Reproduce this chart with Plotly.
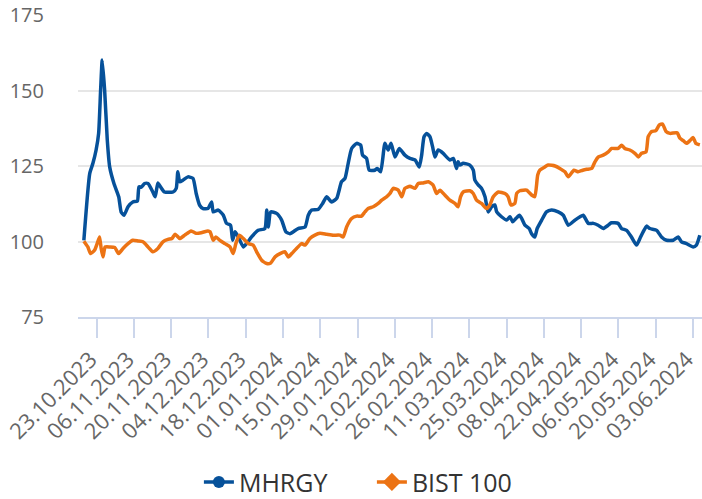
import pandas as pd
import plotly.graph_objects as go

# ---- data (days since 23.10.2023, index value) ----
base_date = "2023-10-23"

mhrgy_days = [-4.8, -2.6, -1.4, -0.2, 0.75, 1.5, 2.1, 3.0, 4.0, 4.9, 6.5, 8.3, 9.2, 10.3, 11.8, 13.6,
              15.3, 15.9, 16.8, 18.0, 19.3, 21.1, 22.0, 23.0, 24.0, 25.5, 28.7, 29.9, 30.5, 31.2, 32.4,
              34.3, 36.2, 37.4, 38.7, 40.0, 41.8, 43.2, 43.8, 45.7, 47.6, 48.8, 50.3, 51.1, 52.0, 53.2,
              55.1, 56.3, 58.2, 60.7, 63.2, 63.9, 64.5, 65.4, 67.6, 69.5, 71.1, 72.6, 75.7, 78.3, 79.5,
              80.8, 83.2, 84.9, 86.4, 88.3, 90.2, 92.0, 93.3, 94.5, 95.8, 97.7, 99.2, 99.9, 101.4, 102.4,
              104.5, 105.4, 106.7, 108.3, 109.5, 110.6, 112.1, 113.7, 115.8, 117.7, 119.6, 121.2, 122.1,
              123.0, 124.0, 125.2, 126.2, 127.1, 128.3, 130.2, 130.8, 132.7, 134.0, 135.2, 135.8, 136.5,
              137.7, 140.2, 141.5, 142.1, 143.4, 144.6, 145.9, 147.1, 148.4, 149.6, 150.3, 152.1, 154.0,
              155.3, 156.3, 157.5, 158.8, 159.7, 160.9, 162.5, 163.4, 164.6, 165.5, 167.2, 169.0, 170.9,
              173.4, 175.3, 177.2, 179.7, 181.6, 182.8, 184.7, 186.6, 188.4, 190.3, 192.2, 193.4, 195.9,
              197.2, 199.1, 200.9, 202.8, 204.1, 205.3, 206.6, 207.8, 210.4, 212.2, 214.1, 216.6, 218.5,
              219.7, 221.6, 224.1, 225.3, 226.6]
mhrgy_vals = [100.4, 122.5, 125.9, 130.3, 135.8, 150.2, 160.1, 150.2, 133.6, 124.7, 119.2, 114.8, 109.8,
              108.7, 111.5, 113.1, 113.4, 118.1, 118.0, 119.2, 119.2, 116.4, 114.8, 119.4, 118.1, 116.4,
              116.4, 117.6, 123.1, 119.8, 120.3, 121.4, 120.9, 115.9, 112.0, 110.9, 110.9, 113.1, 109.8,
              110.4, 108.7, 106.0, 105.4, 100.4, 103.2, 101.5, 98.2, 99.3, 101.5, 103.7, 104.3, 110.4,
              104.8, 109.8, 109.3, 107.1, 103.2, 102.6, 104.3, 104.8, 108.7, 110.4, 110.6, 112.6, 114.8,
              113.1, 114.3, 119.8, 120.9, 125.9, 130.8, 132.5, 131.9, 128.6, 127.5, 123.6, 123.6, 124.2,
              123.1, 132.5, 130.3, 132.5, 128.0, 130.8, 128.6, 127.5, 127.0, 124.7, 128.6, 134.7, 135.8,
              134.7, 131.4, 128.0, 130.3, 129.2, 128.6, 127.0, 127.5, 124.2, 126.4, 125.3, 125.9, 125.3,
              123.6, 120.3, 118.7, 117.6, 114.8, 109.8, 111.5, 112.1, 109.8, 108.2, 107.1, 108.2, 106.5,
              107.6, 108.7, 107.6, 105.4, 104.3, 102.6, 101.5, 104.3, 107.1, 109.8, 110.4, 109.8, 108.7,
              105.4, 107.1, 108.2, 108.7, 106.0, 106.0, 105.4, 104.3, 105.4, 106.2, 106.0, 104.3, 103.7,
              101.5, 98.8, 101.0, 103.2, 105.1, 104.3, 103.7, 101.5, 100.4, 100.4, 101.5, 99.9, 99.3,
              98.2, 98.8, 102.1]

bist_days = [-4.8, -3.3, -2.3, -0.8, 0.2, 1.1, 1.7, 2.4, 3.2, 4.9, 6.8, 8.3, 9.9, 11.8, 13.6, 15.5, 17.4,
             19.3, 21.1, 23.0, 24.9, 26.8, 28.3, 29.5, 31.2, 33.1, 35.5, 37.4, 39.3, 41.8, 42.6, 43.8,
             44.8, 46.3, 48.2, 50.1, 51.3, 52.3, 53.6, 55.1, 57.0, 58.8, 60.1, 62.0, 63.9, 65.4, 67.0,
             68.9, 70.7, 72.0, 73.3, 75.1, 77.0, 78.3, 80.1, 82.0, 83.9, 86.4, 88.9, 91.4, 92.6, 93.9,
             95.8, 97.7, 99.5, 100.8, 102.0, 103.9, 105.8, 107.1, 108.9, 110.2, 111.4, 113.3, 114.6,
             115.8, 117.7, 119.6, 120.8, 122.7, 124.6, 126.4, 127.7, 129.0, 130.8, 132.7, 134.6, 135.8,
             136.7, 137.7, 140.2, 141.5, 142.7, 144.6, 146.5, 147.7, 149.0, 150.9, 153.4, 154.6, 155.6,
             157.1, 157.8, 159.0, 161.5, 163.4, 164.6, 165.7, 166.5, 168.4, 169.6, 172.2, 174.0, 175.9,
             177.2, 179.3, 180.9, 182.6, 184.1, 186.0, 187.2, 188.5, 190.3, 192.2, 193.5, 195.9, 197.2,
             198.4, 200.3, 202.2, 203.5, 204.7, 206.4, 207.2, 208.5, 210.1, 211.4, 212.6, 213.9, 215.4,
             218.1, 219.1, 220.4, 221.6, 223.1, 224.1, 225.1, 226.6]
bist_vals = [100.1, 98.2, 96.0, 97.1, 99.3, 101.5, 97.7, 94.9, 98.2, 98.2, 98.0, 96.0, 97.7, 99.3, 100.4,
             100.2, 99.9, 98.2, 96.6, 97.7, 99.9, 100.7, 101.0, 102.4, 101.0, 102.1, 103.5, 102.7, 102.9,
             103.5, 103.2, 100.4, 101.5, 100.4, 99.3, 98.2, 96.0, 99.3, 102.1, 101.0, 99.3, 98.8, 96.6,
             93.8, 92.7, 92.9, 94.9, 96.0, 96.6, 94.9, 96.0, 97.7, 99.3, 98.8, 101.0, 102.1, 102.7, 102.4,
             102.1, 102.1, 101.5, 104.8, 107.6, 108.4, 108.4, 109.8, 110.9, 111.5, 112.6, 113.7, 114.8,
             115.9, 117.6, 117.0, 114.8, 117.6, 118.3, 117.6, 119.2, 119.4, 119.8, 118.7, 115.9, 117.0,
             115.4, 113.7, 112.6, 111.5, 114.8, 116.4, 116.8, 115.9, 113.7, 112.6, 110.9, 112.1, 114.8,
             116.4, 115.9, 114.8, 112.1, 112.6, 115.9, 116.8, 117.0, 115.4, 114.8, 122.0, 123.6, 124.7,
             125.3, 125.0, 124.2, 123.1, 121.4, 123.6, 123.1, 123.6, 123.9, 124.2, 126.4, 128.0, 128.6,
             129.7, 130.8, 130.8, 131.9, 130.8, 130.3, 129.2, 128.0, 129.2, 129.7, 134.7, 136.4, 136.7,
             138.6, 138.9, 136.4, 135.8, 136.0, 134.2, 133.4, 132.5, 133.6, 134.4, 132.5, 132.0]

tick_labels = ["23.10.2023", "06.11.2023", "20.11.2023", "04.12.2023", "18.12.2023", "01.01.2024",
               "15.01.2024", "29.01.2024", "12.02.2024", "26.02.2024", "11.03.2024", "25.03.2024",
               "08.04.2024", "22.04.2024", "06.05.2024", "20.05.2024", "03.06.2024"]
y_ticks = [75, 100, 125, 150, 175]
x_start, x_end = "2023-10-16", "2024-06-06 10:00"

# ---- build ----
base = pd.Timestamp(base_date)
mhrgy_x = base + pd.to_timedelta(mhrgy_days, unit="D")
bist_x = base + pd.to_timedelta(bist_days, unit="D")
tick_vals = pd.to_datetime(tick_labels, format="%d.%m.%Y")

BLUE = "#06519a"
ORANGE = "#ec7314"
FONT = "Open Sans"

fig = go.Figure()
fig.add_trace(go.Scatter(x=mhrgy_x, y=mhrgy_vals, mode="lines", name="MHRGY",
                         line=dict(color=BLUE, width=3.5, shape="spline", smoothing=0.5),
                         showlegend=False, legendgroup="m"))
fig.add_trace(go.Scatter(x=bist_x, y=bist_vals, mode="lines", name="BIST 100",
                         line=dict(color=ORANGE, width=3.5, shape="spline", smoothing=0.5),
                         showlegend=False, legendgroup="b"))
# legend entries (line + marker symbol)
fig.add_trace(go.Scatter(x=[None], y=[None], mode="lines+markers", name="MHRGY",
                         line=dict(color=BLUE, width=3.5),
                         marker=dict(symbol="circle", size=12, color=BLUE), legendgroup="m"))
fig.add_trace(go.Scatter(x=[None], y=[None], mode="lines+markers", name="BIST 100",
                         line=dict(color=ORANGE, width=3.5),
                         marker=dict(symbol="diamond", size=14, color=ORANGE), legendgroup="b"))

fig.update_layout(
    width=702, height=499,
    margin=dict(l=78, r=0, t=15, b=182, autoexpand=False),
    paper_bgcolor="white", plot_bgcolor="white",
    font=dict(family=FONT, color="#666666"),
    showlegend=True,
    legend=dict(orientation="h", x=0.471, xanchor="center", y=-0.547, yanchor="middle",
                font=dict(size=25, color="#333333", family=FONT), itemwidth=30,
                entrywidth=128, bgcolor="rgba(0,0,0,0)"),
)
fig.update_xaxes(
    type="date", range=[x_start, x_end], automargin=False,
    tickmode="array", tickvals=tick_vals, ticktext=tick_labels, tickangle=-45,
    tickfont=dict(size=22, color="#666666", family=FONT), ticklabeloverflow="allow",
    ticklabelshift=-6,
    showgrid=False, showline=True, linecolor="#ccd6eb", linewidth=2,
    ticks="outside", ticklen=19, tickwidth=2, tickcolor="#ccd6eb", zeroline=False,
)
fig.update_yaxes(
    range=[75, 175], tickmode="array", tickvals=y_ticks, automargin=False,
    tickfont=dict(size=20, color="#666666", family=FONT),
    showgrid=True, gridcolor="#e6e6e6", gridwidth=2, zeroline=False, showline=False,
    ticks="outside", ticklen=29, tickcolor="rgba(0,0,0,0)",
)

fig.write_html("out.html", config={"displayModeBar": False},
               post_script="document.body.style.margin='0';document.body.style.overflow='hidden';")
